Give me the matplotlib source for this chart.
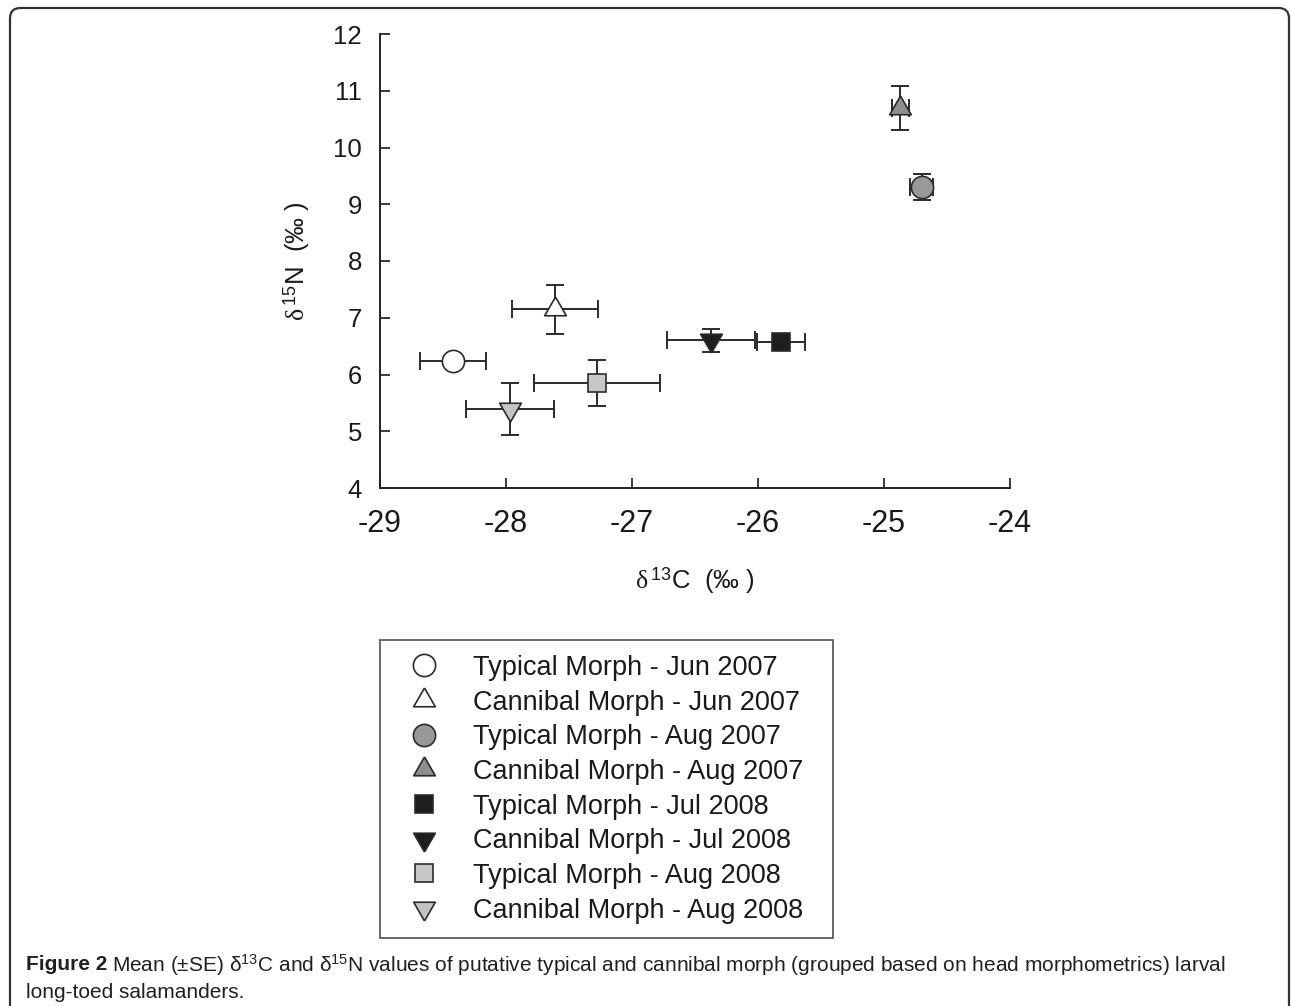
import matplotlib
matplotlib.use("Agg")
import matplotlib.pyplot as plt
from matplotlib.lines import Line2D
from matplotlib.patches import FancyBboxPatch

plt.rcParams["font.family"] = ["Liberation Sans", "DejaVu Sans"]
plt.rcParams["axes.unicode_minus"] = False
plt.rcParams["mathtext.fontset"] = "custom"
plt.rcParams["mathtext.rm"] = "Liberation Sans"
plt.rcParams["mathtext.it"] = "Liberation Serif"

# group means and standard errors
labels = [
    "Typical Morph - Jun 2007",
    "Cannibal Morph - Jun 2007",
    "Typical Morph - Aug 2007",
    "Cannibal Morph - Aug 2007",
    "Typical Morph - Jul 2008",
    "Cannibal Morph - Jul 2008",
    "Typical Morph - Aug 2008",
    "Cannibal Morph - Aug 2008",
]
d13c = [-28.42, -27.61, -24.70, -24.87, -25.82, -26.37, -27.28, -27.97]
d13c_se = [0.26, 0.34, 0.09, 0.07, 0.19, 0.35, 0.50, 0.35]
d15n = [6.24, 7.15, 9.30, 10.70, 6.57, 6.60, 5.85, 5.39]
d15n_se = [0.10, 0.43, 0.23, 0.39, 0.10, 0.21, 0.41, 0.46]

caption_lead = "Figure 2"
caption_line1 = (r"Mean (±SE) δ$^{13}$C and δ$^{15}$N values of putative typical"
                 " and cannibal morph (grouped based on head morphometrics)"
                 " larval")
caption_line2 = "long-toed salamanders."

# equilateral triangles centred on their centroid
tri_up = [(0, 0.577), (-0.5, -0.289), (0.5, -0.289), (0, 0.577)]
tri_dn = [(0, -0.577), (-0.5, 0.289), (0.5, 0.289), (0, -0.577)]
markers = ["o", tri_up, "o", tri_up, "s", tri_dn, "s", tri_dn]
sizes = [16, 18, 16, 18, 13.5, 18, 13.5, 18]
faces = ["white", "white", "#999999", "#8e8e8e", "#1e1e1e", "#1e1e1e",
         "#c8c8c8", "#c4c4c4"]
edge = "#2b2b2b"


def main():
    W, H = 1292, 1006
    fig = plt.figure(figsize=(W / 100, H / 100), dpi=100)
    ax = fig.add_axes([380 / W, 1 - 488 / H, 630 / W, 454 / H])

    handles = []
    for i in range(len(labels)):
        ax.errorbar(d13c[i], d15n[i], xerr=d13c_se[i], yerr=d15n_se[i],
                    fmt="none", ecolor=edge, elinewidth=1.4, capsize=6.5,
                    capthick=1.4, zorder=2)
        ax.plot(d13c[i], d15n[i], linestyle="none", marker=markers[i],
                markersize=sizes[i], markerfacecolor=faces[i],
                markeredgecolor=edge, markeredgewidth=1.2, zorder=3)
        handles.append(Line2D([], [], linestyle="none", marker=markers[i],
                              markersize=sizes[i], markerfacecolor=faces[i],
                              markeredgecolor=edge, markeredgewidth=1.2,
                              label=labels[i]))

    ax.set_xlim(-29, -24)
    ax.set_ylim(4, 12)
    ax.set_xticks(range(-29, -23))
    ax.set_yticks(range(4, 13))
    for s in ["top", "right"]:
        ax.spines[s].set_visible(False)
    for s in ["left", "bottom"]:
        ax.spines[s].set_color("#222222")
        ax.spines[s].set_linewidth(1.4)
    ax.tick_params(axis="both", direction="in", length=7, width=1.2,
                   color="#222222")
    ax.tick_params(axis="x", labelsize=22, colors="#1a1a1a", pad=15)
    ax.tick_params(axis="y", labelsize=18.5, colors="#1a1a1a", pad=13)

    ax.set_xlabel(r"$\delta\,^{13}$C  (‰ )", fontsize=18.5, color="#1a1a1a")
    ax.xaxis.set_label_coords(0.5, -0.203)
    ax.xaxis.label.set_va("center")
    ax.set_ylabel(r"$\delta\,^{15}$N  (‰ )", fontsize=18.5, color="#1a1a1a")
    ax.yaxis.set_label_coords(-0.133, 0.5)
    ax.yaxis.label.set_va("center")
    ax.yaxis.label.set_rotation_mode("default")

    leg = fig.legend(handles=handles, loc="upper left",
                     bbox_to_anchor=(380 / W, 1 - 640 / H, 453 / W, 0),
                     mode="expand", fontsize=19.5, frameon=True,
                     fancybox=False, edgecolor="#222222", borderpad=0.55,
                     borderaxespad=0, handlelength=2.14, handletextpad=0.74,
                     labelspacing=0.32)
    leg.get_frame().set_linewidth(1.2)
    for t in leg.get_texts():
        t.set_color("#1a1a1a")

    # outer rounded frame of the figure panel
    frame = FancyBboxPatch((10 / W, -0.05), 1279 / W, 1.05 - 8 / H,
                           boxstyle="round,pad=0,rounding_size=0.008",
                           mutation_aspect=W / H,
                           transform=fig.transFigure, fill=False,
                           edgecolor="#333333", linewidth=1.6)
    fig.patches.append(frame)

    # caption: bold lead followed by regular text, sized to span the panel
    x0 = 26 / W
    y1 = 1 - 965 / H
    y2 = 1 - 993 / H
    fs = 14
    renderer = fig.canvas.get_renderer()
    lead = fig.text(x0, y1, caption_lead, fontsize=fs, fontweight="bold",
                    va="center", color="#231f20")
    rest = fig.text(0, y1, caption_line1, fontsize=fs, va="center",
                    color="#231f20")
    for _ in range(3):
        lb = lead.get_window_extent(renderer)
        rest.set_x((lb.x1 + 0.3 * fs) / W)
        rb = rest.get_window_extent(renderer)
        fs = fs * (1230 - 26) / (rb.x1 - lb.x0)
        lead.set_fontsize(fs)
        rest.set_fontsize(fs)
    lb = lead.get_window_extent(renderer)
    rest.set_x((lb.x1 + 0.3 * fs) / W)
    fig.text(x0, y2, caption_line2, fontsize=fs, va="center",
             color="#231f20")

    fig.savefig("out.png", dpi=100)


if __name__ == "__main__":
    main()
